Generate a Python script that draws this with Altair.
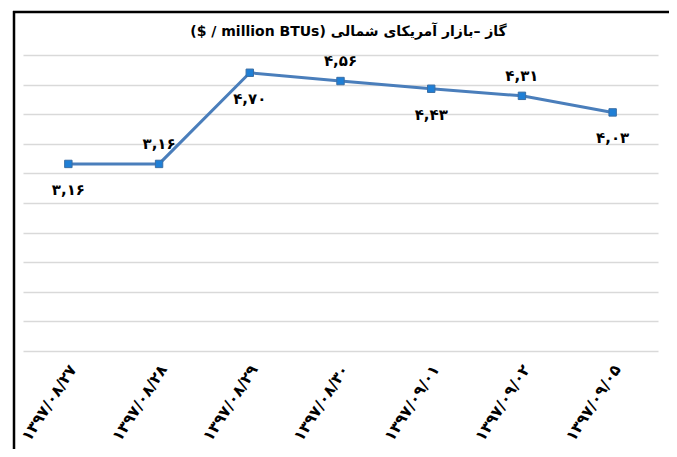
import altair as alt
import pandas as pd

dates = ["۱۳۹۷/۰۸/۲۷", "۱۳۹۷/۰۸/۲۸", "۱۳۹۷/۰۸/۲۹", "۱۳۹۷/۰۸/۳۰",
         "۱۳۹۷/۰۹/۰۱", "۱۳۹۷/۰۹/۰۲", "۱۳۹۷/۰۹/۰۵"]
values = [3.16, 3.16, 4.70, 4.56, 4.43, 4.31, 4.03]
labels = ["۳,۱۶", "۳,۱۶", "۴,۷۰", "۴,۵۶", "۴,۴۳", "۴,۳۱", "۴,۰۳"]
sides = ["below", "above", "below", "above", "below", "above", "below"]
y_ticks = [0, 0.5, 1, 1.5, 2, 2.5, 3, 3.5, 4, 4.5, 5]

title_text = "($ / million BTUs) گاز –بازار آمریکای شمالی"

df = pd.DataFrame({"date": dates, "value": values, "label": labels, "side": sides})

W, H = 635, 296
PAD = {"left": 15, "top": 47, "right": 11, "bottom": 98}
FONT = "DejaVu Sans"

x_enc = alt.X("date:N", sort=dates, title=None,
              scale=alt.Scale(type="point", padding=0.5),
              axis=alt.Axis(labelAngle=-57, labelFont=FONT, labelFontWeight="bold",
                            labelFontSize=15.5, labelColor="black", labelPadding=15,
                            labelOffset=4,
                            ticks=False, domain=False, grid=False))
y_enc = alt.Y("value:Q", title=None,
              scale=alt.Scale(domain=[0, 5], nice=False, zero=True),
              axis=alt.Axis(values=y_ticks, labels=False, ticks=False, domain=False,
                            grid=True, gridColor="#d9d9d9", gridWidth=1.6))

base = alt.Chart(df)

line = base.mark_line(color="#4a7ebb", strokeWidth=3).encode(x=x_enc, y=y_enc)
points = base.mark_point(shape="square", filled=True, size=55, color="#1f7fd6",
                         stroke="#3a6ea5", strokeWidth=1, opacity=1).encode(x=x_enc, y=y_enc)

above = base.transform_filter(alt.datum.side == "above").mark_text(
    font=FONT, fontWeight="bold", fontSize=15, color="black", dy=-20, baseline="middle"
).encode(x=x_enc, y=y_enc, text="label:N")
below = base.transform_filter(alt.datum.side == "below").mark_text(
    font=FONT, fontWeight="bold", fontSize=15, color="black", dy=26, baseline="middle"
).encode(x=x_enc, y=y_enc, text="label:N")

one = alt.Data(values=[{"t": title_text}])

frame_top = alt.Chart(one).mark_rule(color="black", strokeWidth=2.5).encode(
    x=alt.value(-10), x2=alt.value(W + PAD["right"]), y=alt.value(-43))
frame_left = alt.Chart(one).mark_rule(color="black", strokeWidth=2.5).encode(
    x=alt.value(-9), y=alt.value(-44), y2=alt.value(H + PAD["bottom"]))

title = alt.Chart(one).mark_text(
    font=FONT, fontWeight="bold", fontSize=14, color="black", baseline="middle", align="center"
).encode(x=alt.value(W / 2 + 8), y=alt.value(-23), text="t:N")

chart = alt.layer(frame_top, frame_left, line, points, above, below, title).properties(
    width=W, height=H,
    autosize=alt.AutoSizeParams(type="none"),
    padding=PAD,
).configure_view(strokeWidth=0)

chart.save("out.html", embed_options={"renderer": "svg", "actions": False})
